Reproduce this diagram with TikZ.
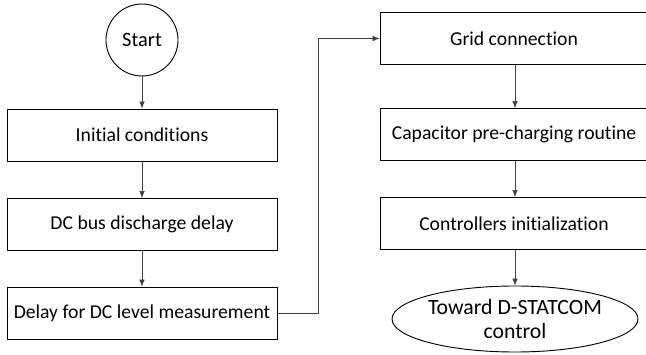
\documentclass[tikz,border=0pt]{standalone}
\usepackage{fontspec}
\setmainfont{Carlito}[Ligatures=NoCommon]
\usetikzlibrary{shapes.geometric, arrows.meta, positioning}

\begin{document}
\begin{tikzpicture}[
  stepbox/.style={draw, line width=0.65pt, minimum width=6.75cm, minimum height=1.3cm, font=\fontsize{14}{16}\selectfont},
  flow/.style={-{Latex[length=5pt, width=4pt]}, draw=black!75, line width=0.5pt}
]
  \useasboundingbox (0, 0) rectangle (16.15, -8.875);
  % left column
  \node[draw, circle, line width=0.65pt, minimum size=1.8cm, font=\fontsize{14.5}{16}\selectfont] (start) at (3.55, -1.0) {Start};
  \node[stepbox] (init) at (3.55, -3.375) {Initial conditions};
  \node[stepbox] (discharge) at (3.55, -5.6125) {DC bus discharge delay};
  \node[stepbox] (measure) at (3.55, -7.825) {Delay for DC level measurement};
  % right column
  \node[stepbox, minimum width=6.7cm] (grid) at (12.85, -0.9625) {Grid connection};
  \node[stepbox, minimum width=6.7cm] (precharge) at (12.85, -3.3625) {Capacitor pre-charging routine};
  \node[stepbox, minimum width=6.7cm] (ctrl) at (12.85, -5.5875) {Controllers initialization};
  \node[draw, ellipse, line width=0.65pt, minimum width=4.6cm, minimum height=1.65cm, inner sep=0pt, align=center, font=\fontsize{15.5}{17}\selectfont] (statcom) at (12.875, -7.975) {Toward D-STATCOM\\control};
  \coordinate (bend) at (7.95, 0);

  \draw[flow] (start) -- (init);
  \draw[flow] (init) -- (discharge);
  \draw[flow] (discharge) -- (measure);
  \draw[flow] (measure.east) -- (measure.east -| bend) |- (grid.west);
  \draw[flow] (grid.south -| statcom) -- (precharge.north -| statcom);
  \draw[flow] (precharge.south -| statcom) -- (ctrl.north -| statcom);
  \draw[flow] (ctrl.south -| statcom) -- (statcom);
\end{tikzpicture}
\end{document}
